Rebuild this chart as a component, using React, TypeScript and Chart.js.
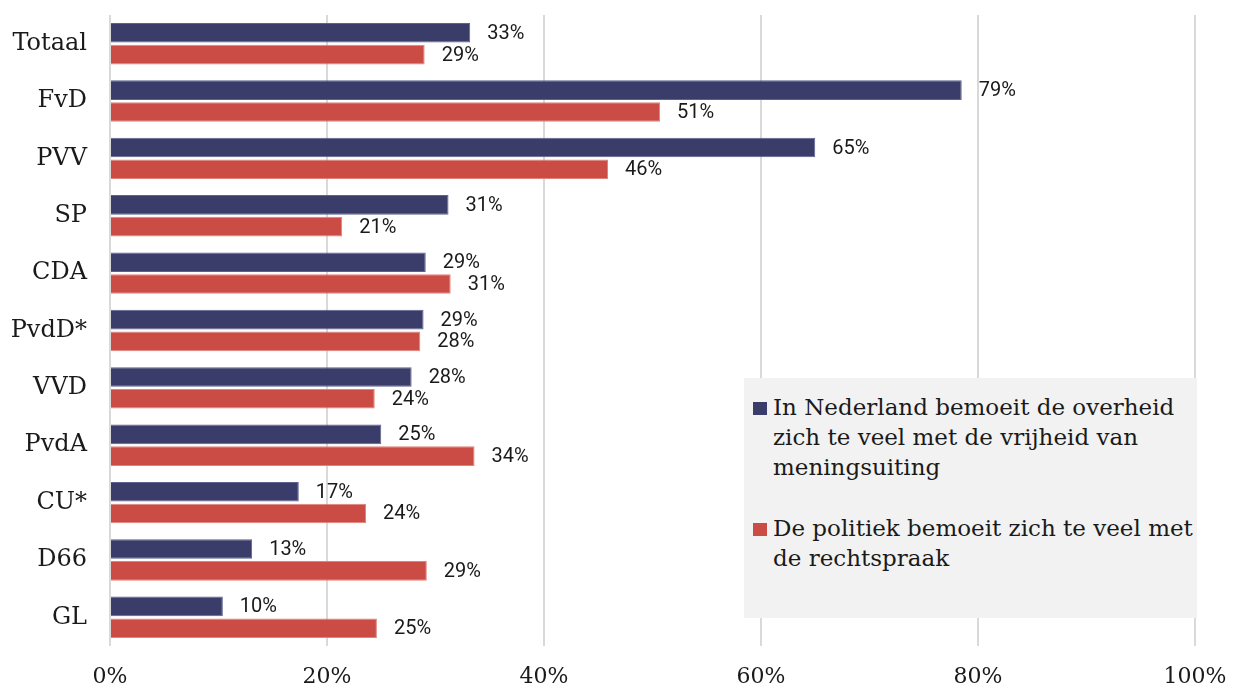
import React, { useEffect, useRef } from "react";
import { Chart, registerables } from "chart.js";

Chart.register(...registerables);

const categories = ["Totaal", "FvD", "PVV", "SP", "CDA", "PvdD*", "VVD", "PvdA", "CU*", "D66", "GL"];
const speechValues = [33.2, 78.5, 65.0, 31.2, 29.1, 28.9, 27.8, 25.0, 17.4, 13.1, 10.4];
const speechLabels = ["33%", "79%", "65%", "31%", "29%", "29%", "28%", "25%", "17%", "13%", "10%"];
const courtValues = [29.0, 50.7, 45.9, 21.4, 31.4, 28.6, 24.4, 33.6, 23.6, 29.2, 24.6];
const courtLabels = ["29%", "51%", "46%", "21%", "31%", "28%", "24%", "34%", "24%", "29%", "25%"];
const xTicks = [0, 20, 40, 60, 80, 100];

const speechLegend = ["In Nederland bemoeit de overheid", "zich te veel met de vrijheid van", "meningsuiting"];
const courtLegend = ["De politiek bemoeit zich te veel met", "de rechtspraak"];

const NAVY = "#3a3d69";
const RED = "#ca4c44";
const SERIF = "'DejaVu Serif', serif";

const labelPlugin = {
  id: "barLabels",
  afterDatasetsDraw(chart: any) {
    const ctx = chart.ctx;
    const texts = [speechLabels, courtLabels];
    ctx.save();
    ctx.font = "20px Roboto";
    ctx.fillStyle = "#1a1a1a";
    ctx.textAlign = "left";
    ctx.textBaseline = "middle";
    chart.data.datasets.forEach((_: any, di: number) => {
      const meta = chart.getDatasetMeta(di);
      meta.data.forEach((bar: any, i: number) => {
        ctx.fillText(texts[di][i], bar.x + 17, bar.y + 1);
      });
    });
    ctx.restore();
  },
};

export default function App() {
  const canvasRef = useRef<HTMLCanvasElement | null>(null);

  useEffect(() => {
    document.body.style.margin = "0";
    const canvas = canvasRef.current;
    if (!canvas) return;
    const chart = new Chart(canvas, {
      type: "bar",
      data: {
        labels: categories,
        datasets: [
          {
            label: speechLegend.join(" "),
            data: speechValues,
            backgroundColor: NAVY,
            borderColor: "#5f6290",
            borderWidth: 1,
            categoryPercentage: 0.76,
            barPercentage: 0.9,
          },
          {
            label: courtLegend.join(" "),
            data: courtValues,
            backgroundColor: RED,
            borderColor: "#e0837c",
            borderWidth: 1,
            categoryPercentage: 0.76,
            barPercentage: 0.9,
          },
        ],
      },
      options: {
        indexAxis: "y",
        responsive: false,
        animation: false,
        layout: { padding: { top: 15, right: 47, bottom: 0, left: 0 } },
        plugins: {
          legend: { display: false },
          tooltip: { enabled: false },
        },
        scales: {
          x: {
            min: 0,
            max: 100,
            afterBuildTicks(scale: any) {
              scale.ticks = xTicks.map((v) => ({ value: v }));
            },
            afterFit(scale: any) {
              scale.height = 42;
              scale.paddingLeft = 0;
              scale.paddingRight = 0;
            },
            ticks: {
              padding: 18,
              color: "#1a1a1a",
              font: { family: SERIF, size: 22 },
              callback: (v: any) => `${v}%`,
            },
            grid: { color: "#d9d9d9", lineWidth: 2, drawTicks: false },
            border: { display: false },
          },
          y: {
            afterFit(scale: any) {
              scale.width = 110;
              scale.paddingTop = 0;
              scale.paddingBottom = 0;
            },
            ticks: {
              padding: 23,
              color: "#1a1a1a",
              font: { family: SERIF, size: 24 },
            },
            grid: { display: false, drawTicks: false },
            border: { display: false },
          },
        },
      },
      plugins: [labelPlugin],
    });
    return () => chart.destroy();
  }, []);

  const lineStyle: React.CSSProperties = { height: 30, lineHeight: "30px", whiteSpace: "nowrap" };
  const marker = (color: string, top: number): React.CSSProperties => ({
    position: "absolute",
    left: 9,
    top,
    width: 14,
    height: 13,
    background: color,
  });

  return (
    <div style={{ position: "relative", width: 1242, height: 688, background: "#fff" }}>
      <canvas ref={canvasRef} width={1242} height={688} style={{ display: "block" }} />
      <div
        style={{
          position: "absolute",
          left: 744,
          top: 378,
          width: 453,
          height: 240,
          background: "#f2f2f2",
          fontFamily: SERIF,
          fontSize: 23,
          color: "#1a1a1a",
        }}
      >
        <div style={marker(NAVY, 24)} />
        <div style={{ position: "absolute", left: 29, top: 14 }}>
          {speechLegend.map((t) => (
            <div key={t} style={lineStyle}>{t}</div>
          ))}
        </div>
        <div style={marker(RED, 145)} />
        <div style={{ position: "absolute", left: 29, top: 135 }}>
          {courtLegend.map((t) => (
            <div key={t} style={lineStyle}>{t}</div>
          ))}
        </div>
      </div>
    </div>
  );
}
